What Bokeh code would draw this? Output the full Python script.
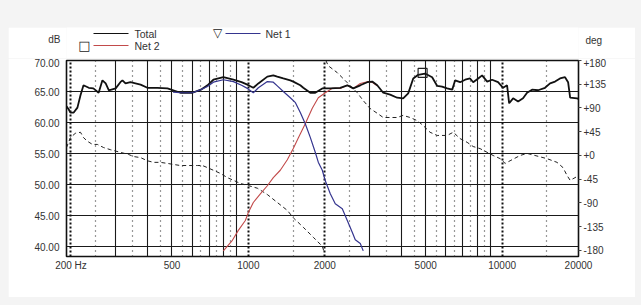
from bokeh.plotting import figure
from bokeh.models import Range1d, LinearAxis, FixedTicker, Grid, Label, Arrow
from bokeh.layouts import column
from bokeh.embed import file_html
from bokeh.resources import INLINE

# ---------------- data ----------------
hz_ticks = [200, 500, 1000, 2000, 5000, 10000, 20000]
hz_tick_labels = ["200 Hz", "500", "1000", "2000", "5000", "10000", "20000"]
db_ticks = [40, 45, 50, 55, 60, 65, 70]
db_tick_labels = ["40.00", "45.00", "50.00", "55.00", "60.00", "65.00", "70.00"]
deg_ticks = [-180, -135, -90, -45, 0, 45, 90, 135, 180]
deg_tick_labels = ["-180", "-135", "-90", "-45", "+0", "+45", "+90", "+135", "+180"]
left_unit = "dB"
right_unit = "deg"

grid_solid_hz = [300, 400, 500, 600, 700, 800, 900,
                 3000, 4000, 5000, 6000, 7000, 8000, 9000]
grid_dot_hz = [250, 350, 450, 550, 650, 750, 850, 1500,
               2500, 3500, 4500, 5500, 6500, 7500, 8500, 15000]
grid_major_hz = [200, 1000, 2000, 10000]

total_hz = [192, 196, 199, 205, 212, 218, 224, 235, 245, 257, 266, 274, 282, 300,
            313, 319, 328, 343, 359, 376, 400, 438, 480, 540, 602, 650, 690, 728,
            797, 873, 940, 991, 1046, 1095, 1188, 1254, 1300, 1373, 1463, 1503,
            1602, 1646, 1754, 1835, 1956, 2103, 2301, 2454, 2591, 2761, 2941, 3077,
            3220, 3400, 3620, 3860, 4074, 4265, 4464, 4670, 4970, 5300, 5550, 5800,
            6070, 6360, 6530, 6830, 7150, 7480, 7690, 8050, 8340, 8730, 9130, 9640,
            10090, 10460, 10660, 11050, 11560, 12090, 12540, 13120, 13860, 14760,
            15450, 16170, 16910, 17700, 18200, 18540, 19740, 20000]
total_db = [62.6, 62.1, 61.6, 61.6, 62.4, 64.4, 66.0, 65.6, 65.5, 64.8, 66.8, 66.3, 65.2, 65.5,
            66.5, 66.8, 66.3, 66.5, 66.3, 66.1, 65.6, 65.6, 65.5, 64.8, 64.8, 65.3, 66.0, 66.9,
            67.3, 66.9, 66.5, 66.1, 65.6, 66.3, 67.4, 67.6, 67.4, 67.1, 66.8, 66.6,
            66.0, 65.6, 64.8, 64.8, 65.5, 65.5, 65.6, 66.0, 65.5, 66.0, 66.5, 66.6,
            66.0, 64.8, 64.5, 64.0, 63.9, 64.7, 67.1, 67.7, 67.9, 67.3, 65.9, 65.8,
            65.5, 65.3, 66.8, 66.5, 66.9, 67.1, 66.5, 67.1, 67.6, 66.6, 66.9, 66.5,
            65.6, 66.0, 63.1, 63.9, 63.4, 63.9, 64.8, 65.3, 65.2, 65.6,
            66.3, 66.6, 67.1, 67.3, 66.5, 64.0, 63.9, 63.8]

net1_hz = [505, 540, 602, 650, 690, 728, 797, 873, 940, 991, 1046, 1095, 1188, 1254,
           1300, 1373, 1463, 1533, 1602, 1676, 1754, 1835, 1886, 1956, 2010, 2103,
           2200, 2345, 2454, 2567, 2638, 2761, 2836]
net1_db = [64.9, 64.8, 64.8, 65.3, 65.8, 66.5, 66.9, 66.6, 66.0, 65.5, 64.8, 65.6, 66.6, 66.5,
           65.9, 65.0, 64.0, 63.2, 61.6, 59.8, 57.6, 55.2, 53.6, 52.3, 50.6, 48.5,
           46.9, 46.1, 44.2, 42.3, 41.1, 40.5, 39.3]

net2_hz = [797, 865, 913, 973, 1000, 1046, 1115, 1188, 1254, 1336, 1424, 1503, 1573,
           1676, 1786, 1886, 2010, 2141, 2301, 2454, 2591, 2761, 2968, 3077, 3220]
net2_db = [39.3, 41.0, 42.6, 44.2, 45.5, 47.1, 48.5, 49.8, 51.1, 52.3, 54.0, 55.8, 57.5,
           59.8, 62.3, 64.0, 64.8, 65.5, 65.5, 66.0, 65.5, 66.3, 66.6, 66.5, 65.9]
net2_marker_hz = [4860]
net2_marker_db = [68.0]

phase_a_hz = [192, 199, 208, 218, 224, 232, 243, 254, 269, 286, 313, 337, 353, 376, 400,
              423, 450, 480, 507, 540, 575, 630, 659, 690, 728, 776, 827, 873, 930, 1000,
              1085, 1188, 1300, 1424, 1503, 1646, 1803, 1956, 1980]
phase_a_deg = [15, 34, 42, 44, 34, 27, 21, 21, 15, 11, 6, 2, -2, -4, -10,
               -13, -13, -15, -17, -19, -19, -19, -19, -23, -28, -34, -42, -47, -53, -57,
               -62, -74, -89, -104, -118, -136, -155, -172, -180]
phase_b_hz = [2020, 2065, 2240, 2454, 2686, 2836, 3020, 3220, 3400, 3620, 3860, 4074, 4340,
              4630, 4880, 5200, 5550, 6070, 6420, 6830, 7280, 7690, 8190, 8730, 9220, 9830,
              10280, 10750, 11770, 12540, 13480, 15030, 16460, 17380, 18030, 18540, 19380, 20000]
phase_b_deg = [180, 170, 157, 138, 119, 104, 89, 80, 72, 72, 72, 76, 72,
               66, 57, 44, 38, 38, 44, 32, 25, 17, 13, 6, 0, -6,
               -15, -10, 0, 4, 0, -6, -13, -23, -38, -47, -42, -38]

series_names = ["Total", "Net 2", "Net 1"]
series_colors = ["#111111", "#c24a4a", "#35358f"]

# ---------------- styles ----------------
FONT = "Liberation Sans"
TXT = "#333333"

def style_axis(ax):
    ax.axis_line_color = None
    ax.major_tick_in = 0
    ax.major_tick_out = 0
    ax.minor_tick_in = 0
    ax.minor_tick_out = 0
    ax.major_label_text_font = FONT
    ax.major_label_text_font_size = "10px"
    ax.major_label_text_color = TXT

# ---------------- header strip (legend + unit titles) ----------------
head = figure(width=627, height=31, x_range=Range1d(0, 1), y_range=Range1d(0, 31),
              x_axis_location=None, y_axis_location=None,
              output_backend="svg", toolbar_location=None,
              min_border_left=58, min_border_right=57, min_border_top=0, min_border_bottom=0,
              outline_line_color=None, background_fill_color="white",
              border_fill_color="white")
head.grid.visible = False
# unit titles as the labels of the header's side axes
hl = LinearAxis(ticker=FixedTicker(ticks=[19]), major_label_overrides={19: left_unit})
hr = LinearAxis(ticker=FixedTicker(ticks=[18]), major_label_overrides={18: right_unit})
head.add_layout(hl, "left")
head.add_layout(hr, "right")
for ax in (hl, hr):
    style_axis(ax)
hl.major_label_standoff = 6
hr.major_label_standoff = 7

def lab(x, y, text, align="left", size="10px", font=FONT, color=TXT):
    head.add_layout(Label(x=x, y=y, x_units="screen", y_units="screen", text=text,
                          text_align=align, text_baseline="middle",
                          text_font=font, text_font_size=size, text_color=color))

def seg(x0, x1, y, color):
    head.add_layout(Arrow(x_start=x0, y_start=y, x_end=x1, y_end=y,
                          start_units="screen", end_units="screen",
                          start=None, end=None, line_color=color, line_width=1))

seg(27, 62, 25, series_colors[0])
lab(68, 25, series_names[0], size="10.5px")
seg(27, 62, 13, series_colors[1])
lab(68, 13, series_names[1], size="10.5px")
lab(18, 13, "\u25a1", align="center", size="13px", font="DejaVu Sans", color="#222222")
lab(151, 26, "\u25bd", align="center", size="12px", font="DejaVu Sans", color="#222222")
seg(159, 194, 25, series_colors[2])
lab(199, 25, series_names[2], size="10.5px")

# ---------------- main chart ----------------
p = figure(width=627, height=239, x_axis_type="log",
           x_range=Range1d(192, 20000), y_range=Range1d(38.39, 70.0),
           output_backend="svg", toolbar_location=None,
           min_border_left=58, min_border_right=57, min_border_top=2, min_border_bottom=41,
           background_fill_color="white", border_fill_color="white")
p.extra_y_ranges = {"phase": Range1d(-191.4, 180.0)}
p.outline_line_color = "#111111"
p.outline_line_width = 1.6

xa = p.xaxis[0]
xa.ticker = FixedTicker(ticks=hz_ticks)
xa.major_label_overrides = dict(zip(hz_ticks, hz_tick_labels))
ya = p.yaxis[0]
ya.ticker = FixedTicker(ticks=db_ticks)
ya.major_label_overrides = dict(zip(db_ticks, db_tick_labels))
ra = LinearAxis(y_range_name="phase", ticker=FixedTicker(ticks=deg_ticks),
                major_label_overrides=dict(zip(deg_ticks, deg_tick_labels)))
p.add_layout(ra, "right")
for ax in (xa, ya, ra):
    style_axis(ax)
xa.major_label_standoff = 3
ya.major_label_standoff = 7
ra.major_tick_out = 3
ra.major_tick_line_color = "#444444"
ra.major_label_standoff = 2

p.ygrid.ticker = FixedTicker(ticks=db_ticks)
p.ygrid.grid_line_color = "#1a1a1a"
p.ygrid.grid_line_width = 1.1
p.xgrid.ticker = FixedTicker(ticks=grid_solid_hz)
p.xgrid.grid_line_color = "#1a1a1a"
p.xgrid.grid_line_width = 1.1
p.add_layout(Grid(dimension=0, ticker=FixedTicker(ticks=grid_dot_hz),
                  grid_line_color="#333333", grid_line_dash="1 4", grid_line_width=1.2))
p.add_layout(Grid(dimension=0, ticker=FixedTicker(ticks=grid_major_hz),
                  grid_line_color="#111111", grid_line_dash="2 2", grid_line_width=2))

p.line(phase_a_hz, phase_a_deg, y_range_name="phase", line_color="#222222",
       line_width=1, line_dash="4 3")
p.line(phase_b_hz, phase_b_deg, y_range_name="phase", line_color="#222222",
       line_width=1, line_dash="4 3")
p.line(net2_hz, net2_db, line_color=series_colors[1], line_width=1.1)
p.line(total_hz, total_db, line_color=series_colors[0], line_width=1.8)
p.line(net1_hz, net1_db, line_color=series_colors[2], line_width=1.2)
p.scatter(net2_marker_hz, net2_marker_db, marker="square", size=9,
          fill_color=None, line_color="#222222", line_width=1.2)

head.margin = (27, 6, 0, 8)
p.margin = (0, 6, 8, 8)
root = column(head, p, width=641, height=305, spacing=0,
              styles={"background-color": "#f4f4f4"})

open("out.html", "w").write(file_html(root, INLINE))
